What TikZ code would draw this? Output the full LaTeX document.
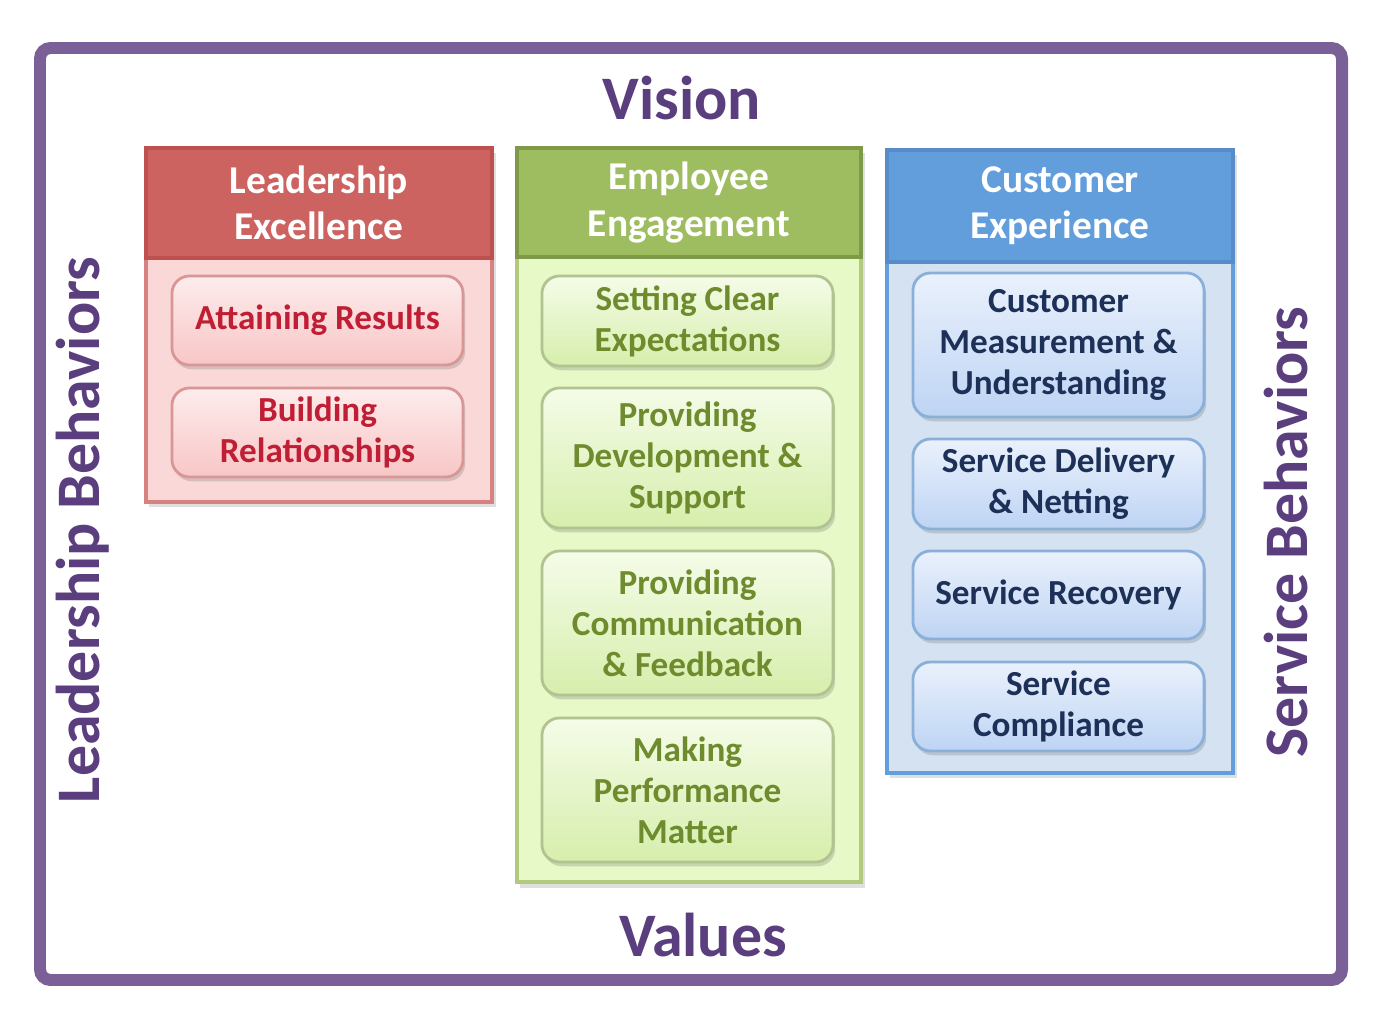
\documentclass[tikz,border=0pt]{standalone}
\usepackage{fontspec}
\setmainfont{Carlito}
\usetikzlibrary{shadows}

\definecolor{framepurple}{RGB}{122,96,150}
\definecolor{titlepurple}{RGB}{90,62,126}
\definecolor{redhead}{RGB}{205,99,96}
\definecolor{redline}{RGB}{190,80,78}
\definecolor{redbody}{RGB}{250,216,216}
\definecolor{redtop}{RGB}{253,236,236}
\definecolor{redbot}{RGB}{248,198,198}
\definecolor{redtext}{RGB}{192,30,52}
\definecolor{greenhead}{RGB}{158,189,96}
\definecolor{greenline}{RGB}{126,154,72}
\definecolor{greenbody}{RGB}{230,249,198}
\definecolor{greentop}{RGB}{245,252,232}
\definecolor{greenbot}{RGB}{214,238,172}
\definecolor{greentext}{RGB}{110,140,46}
\definecolor{bluehead}{RGB}{98,157,220}
\definecolor{blueline}{RGB}{88,140,200}
\definecolor{bluebody}{RGB}{212,226,242}
\definecolor{bluetop}{RGB}{234,241,252}
\definecolor{bluebot}{RGB}{190,212,244}
\definecolor{bluetext}{RGB}{28,48,88}

\begin{document}
\begin{tikzpicture}[x = 0.01cm, y = -0.01cm]
    \tikzstyle{every node} = [inner sep = 0pt, align = center];
    \tikzstyle{body} = [rectangle, draw, line width = 1.2pt, minimum width = 3.46cm,
        drop shadow = {opacity = .25, shadow xshift = 1pt, shadow yshift = -1.5pt}];
    \tikzstyle{head} = [rectangle, draw, line width = 1pt, minimum width = 3.46cm, text = white,
        font = \bfseries\fontsize{11.2}{13.1}\selectfont];
    \tikzstyle{item} = [rectangle, rounded corners = 5pt, draw, line width = .8pt,
        minimum width = 2.91cm, font = \bfseries\fontsize{10}{11.7}\selectfont,
        drop shadow = {opacity = .3, shadow xshift = .6pt, shadow yshift = -1.2pt}];
    \tikzstyle{reditem} = [item, draw = redline!60, top color = redtop, bottom color = redbot, text = redtext];
    \tikzstyle{greenitem} = [item, draw = greenline!60, top color = greentop, bottom color = greenbot, text = greentext];
    \tikzstyle{blueitem} = [item, draw = blueline!70, top color = bluetop, bottom color = bluebot, text = bluetext];
    \tikzstyle{bigtext} = [text = titlepurple, font = \bfseries\fontsize{17.6}{21}\selectfont];
    \useasboundingbox (0,0) rectangle (1376,1012);
    % frame:
    \draw[framepurple, line width = 3.4pt, rounded corners = 3pt] (40,48) rectangle (1342,980);
    \node[bigtext] (vision) at (682,98) {Vision};
    \node[bigtext] (values) at (703,935) {Values};
    \node[bigtext, rotate = 90] (leadbeh) at (83,530) {Leadership Behaviors};
    \node[bigtext, rotate = 90] (servbeh) at (1286,532) {Service Behaviors};
    % leadership column:
    \node[body, draw = redhead!80, fill = redbody, minimum height = 3.54cm] (lbody) at (319,325) {};
    \node[head, draw = redline, fill = redhead, minimum height = 1.10cm] (lhead) at (319,203) {Leadership\\Excellence};
    \node[reditem, minimum height = .89cm] (l1) at (317.5,320.5) {Attaining Results};
    \node[reditem, minimum height = .89cm] (l2) at (317.5,432.5) {Building\\Relationships};
    % employee column:
    \node[body, draw = greenhead!80, fill = greenbody, minimum width = 3.44cm, minimum height = 7.34cm] (ebody) at (689,515) {};
    \node[head, draw = greenline, fill = greenhead, minimum width = 3.44cm, minimum height = 1.09cm] (ehead) at (689,202.5) {Employee\\Engagement};
    \node[greenitem, minimum height = .90cm] (e1) at (687.5,321) {Setting Clear\\Expectations};
    \node[greenitem, minimum height = 1.40cm] (e2) at (687.5,458) {Providing\\Development \&\\Support};
    \node[greenitem, minimum height = 1.44cm] (e3) at (687.5,623) {Providing\\Communication\\\& Feedback};
    \node[greenitem, minimum height = 1.44cm] (e4) at (687.5,790) {Making\\Performance\\Matter};
    % customer column:
    \node[body, draw = bluehead, fill = bluebody, minimum height = 6.23cm] (cbody) at (1060,461.5) {};
    \node[head, draw = blueline, fill = bluehead, minimum height = 1.12cm] (chead) at (1060,206) {Customer\\Experience};
    \node[blueitem, minimum height = 1.44cm] (c1) at (1058.5,345) {Customer\\Measurement \&\\Understanding};
    \node[blueitem, minimum height = .90cm] (c2) at (1058.5,484) {Service Delivery\\\& Netting};
    \node[blueitem, minimum height = .88cm] (c3) at (1058.5,595) {Service Recovery};
    \node[blueitem, minimum height = .89cm] (c4) at (1058.5,706.5) {Service\\Compliance};
\end{tikzpicture}
\end{document}
